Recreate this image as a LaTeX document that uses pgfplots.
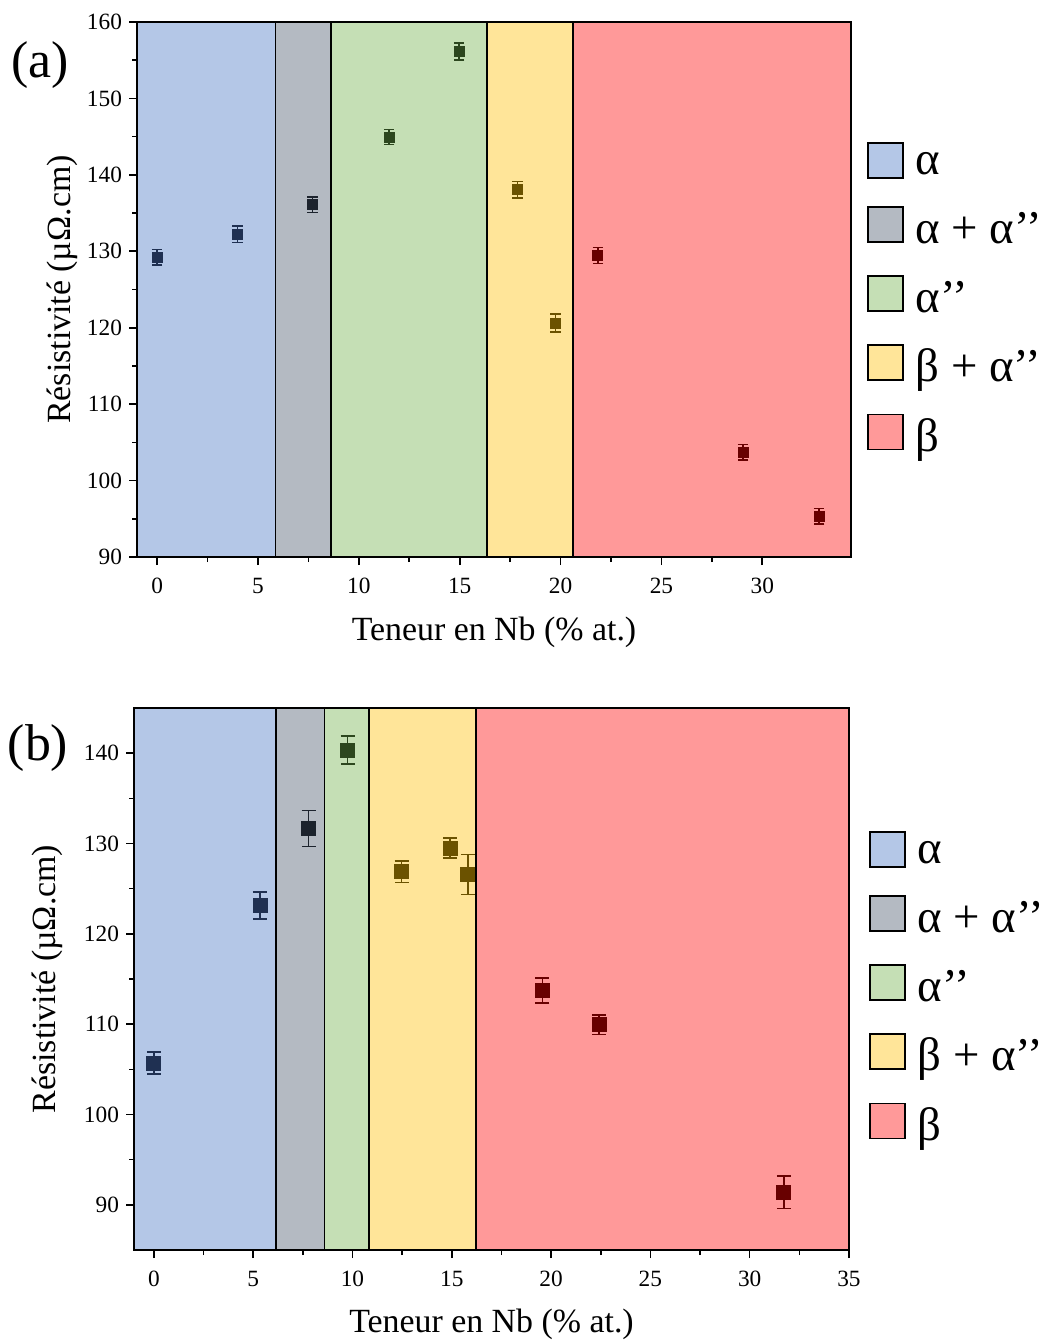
\documentclass[border=0pt]{standalone}
\usepackage{pgfplots}
\pgfplotsset{compat=1.18}
\usepackage{fontspec}
\setmainfont{Liberation Serif}
\definecolor{cA}{HTML}{B4C7E7}
\definecolor{cAA}{HTML}{B4BAC2}
\definecolor{cAp}{HTML}{C5DFB5}
\definecolor{cBA}{HTML}{FFE599}
\definecolor{cB}{HTML}{FF9999}
\definecolor{mA}{HTML}{1F3052}
\definecolor{mAA}{HTML}{1C232D}
\definecolor{mAp}{HTML}{2C461E}
\definecolor{mBA}{HTML}{6B5200}
\definecolor{mB}{HTML}{680000}
\newcommand{\legtxt}[1]{\raisebox{2bp}{#1}}
\pgfplotsset{
  regstyle/.style={draw=black, line width=0.8bp},
  mk/.style={only marks, mark=square*, error bars/y dir=both, error bars/y explicit},
  common/.style={
    scale only axis,
    axis line style={line width=1bp},
    tick pos=left, tick align=outside,
    major tick length=4bp, minor tick length=2.5bp,
    every tick/.style={black, line width=0.8bp},
    /pgf/number format/assume math mode=true,
    tick label style={font=\fontsize{11.7}{14}\selectfont},
    xticklabel style={yshift=-3bp},
    label style={font=\fontsize{17}{20}\selectfont},
    xlabel={Teneur en Nb (\% at.)},
    ylabel={Résistivité (µΩ.cm)},
    minor x tick num=1, minor y tick num=1,
    legend cell align=left,
    legend image code/.code={\draw[#1,draw=black,line width=0.8bp] (0bp,-5.5bp) rectangle (17.5bp,12bp);},
    legend style={draw=none, fill=none, font=\fontsize{23.5}{27}\selectfont, anchor=north west,
      row sep=11bp, inner sep=0pt, outer sep=0pt,
      nodes={inner sep=1.5bp},
      /tikz/every odd column/.append style={column sep=4.5bp}},
  },
}
\begin{document}
\begin{tikzpicture}
\useasboundingbox (0,0) rectangle (521.5bp,-671bp);
\begin{axis}[common,
  at={(68.5bp,-278.5bp)}, anchor=south west,
  width=357bp, height=267.5bp,
  xmin=-1, xmax=34.4, ymin=90, ymax=160,
  xtick={0,5,...,30}, ytick={90,100,...,160},
  xlabel style={at={(axis description cs:0.5,-0.140)}, anchor=center},
  ylabel style={at={(axis description cs:-0.105,0.5)}, anchor=center},
  legend style={at={(axis description cs:1,1)}, xshift=8bp, yshift=-60bp},
  mark size=2.5bp,
  error bars/error mark options={rotate=90, mark size=2.6bp, line width=0.8bp},
  error bars/error bar style={line width=0.8bp},
]
\addplot[regstyle, fill=cA] coordinates {(-1,90) (-1,160) (5.86,160) (5.86,90)} -- cycle;
\addlegendentry{\legtxt{α}}
\addplot[regstyle, fill=cAA] coordinates {(5.86,90) (5.86,160) (8.61,160) (8.61,90)} -- cycle;
\addlegendentry{\legtxt{α + α’’}}
\addplot[regstyle, fill=cAp] coordinates {(8.61,90) (8.61,160) (16.35,160) (16.35,90)} -- cycle;
\addlegendentry{\legtxt{α’’}}
\addplot[regstyle, fill=cBA] coordinates {(16.35,90) (16.35,160) (20.63,160) (20.63,90)} -- cycle;
\addlegendentry{\legtxt{β + α’’}}
\addplot[regstyle, fill=cB] coordinates {(20.63,90) (20.63,160) (34.4,160) (34.4,90)} -- cycle;
\addlegendentry{\legtxt{β}}
\addplot[mk, color=mA, forget plot] table[y error index=2] {
0 129.24 1.0
3.99 132.21 1.07
};
\addplot[mk, color=mAA, forget plot] table[y error index=2] {
7.71 136.09 1.0
};
\addplot[mk, color=mAp, forget plot] table[y error index=2] {
11.5 144.95 1.0
14.97 156.16 1.13
};
\addplot[mk, color=mBA, forget plot] table[y error index=2] {
17.86 138.05 1.09
19.75 120.6 1.16
};
\addplot[mk, color=mB, forget plot] table[y error index=2] {
21.85 129.46 1.05
29.05 103.72 1.0
32.82 95.34 1.0
};
\end{axis}
\node[font=\fontsize{26}{30}\selectfont] at (20bp,-32.5bp) {(a)};
\begin{axis}[common,
  at={(67bp,-625bp)}, anchor=south west,
  width=357.5bp, height=271bp,
  xmin=-1, xmax=35, ymin=85, ymax=145,
  xtick={0,5,...,35}, ytick={90,100,...,140},
  xlabel style={at={(axis description cs:0.5,-0.138)}, anchor=center},
  ylabel style={at={(axis description cs:-0.1217,0.5)}, anchor=center},
  legend style={at={(axis description cs:1,1)}, xshift=10bp, yshift=-61.5bp},
  mark size=3.5bp,
  error bars/error mark options={rotate=90, mark size=3.5bp, line width=0.8bp},
  error bars/error bar style={line width=0.8bp},
]
\addplot[regstyle, fill=cA] coordinates {(-1,85) (-1,145) (6.16,145) (6.16,85)} -- cycle;
\addlegendentry{\legtxt{α}}
\addplot[regstyle, fill=cAA] coordinates {(6.16,85) (6.16,145) (8.6,145) (8.6,85)} -- cycle;
\addlegendentry{\legtxt{α + α’’}}
\addplot[regstyle, fill=cAp] coordinates {(8.6,85) (8.6,145) (10.84,145) (10.84,85)} -- cycle;
\addlegendentry{\legtxt{α’’}}
\addplot[regstyle, fill=cBA] coordinates {(10.84,85) (10.84,145) (16.21,145) (16.21,85)} -- cycle;
\addlegendentry{\legtxt{β + α’’}}
\addplot[regstyle, fill=cB] coordinates {(16.21,85) (16.21,145) (35,145) (35,85)} -- cycle;
\addlegendentry{\legtxt{β}}
\addplot[mk, color=mA, forget plot] table[y error index=2] {
0 105.7 1.2
5.34 123.15 1.5
};
\addplot[mk, color=mAA, forget plot] table[y error index=2] {
7.79 131.67 2.0
};
\addplot[mk, color=mAp, forget plot] table[y error index=2] {
9.75 140.33 1.55
};
\addplot[mk, color=mBA, forget plot] table[y error index=2] {
12.47 126.87 1.2
14.92 129.5 1.1
15.81 126.57 2.2
};
\addplot[mk, color=mB, forget plot] table[y error index=2] {
19.56 113.73 1.4
22.41 109.94 1.1
31.72 91.4 1.8
};
\end{axis}
\node[font=\fontsize{26}{30}\selectfont] at (19bp,-374bp) {(b)};
\end{tikzpicture}
\end{document}
